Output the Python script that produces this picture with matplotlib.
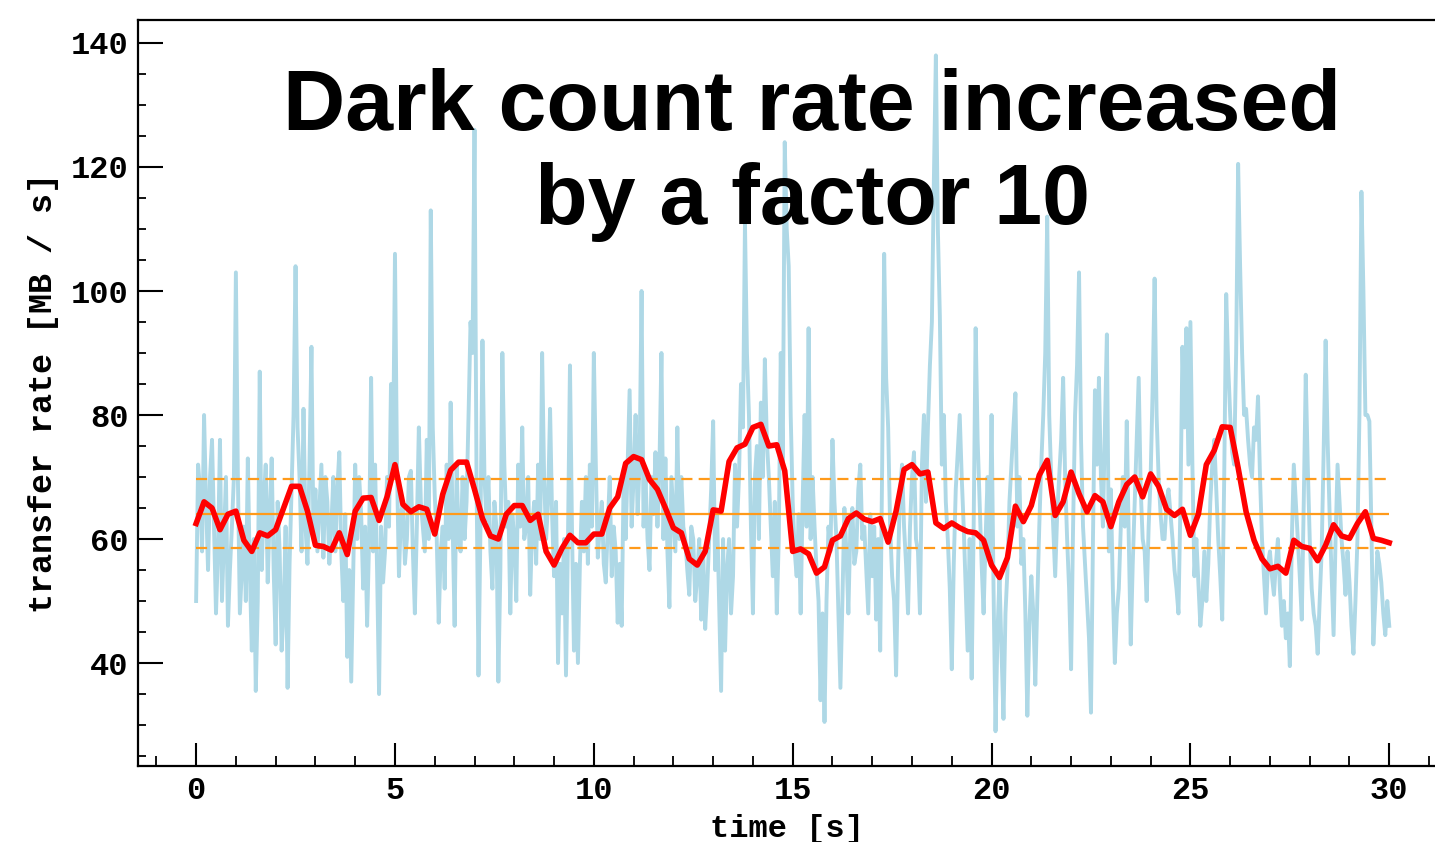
import numpy as np
import matplotlib
matplotlib.use("Agg")
import matplotlib.pyplot as plt
from matplotlib.ticker import MultipleLocator

# raw transfer rate, samples at 0.0, 0.1, ... 30.0 s (MB/s)
raw_rate = [
    50, 68, 80, 55, 76, 48, 76, 60, 46, 62,
    103, 48, 62, 73, 42, 35.5, 87, 66, 53, 73,
    43, 58, 48, 36, 68, 104, 70, 81, 56, 91,
    68, 65, 57, 66, 62, 58, 74, 50, 41, 37,
    72, 70, 52, 46, 86, 72, 35, 53, 70, 85,
    106, 54, 66, 60, 71, 48, 78, 62, 76, 113,
    67, 46.5, 62, 72, 82, 46, 60, 70, 66, 95,
    126, 38, 92, 63, 58, 66, 37, 90, 62, 48,
    60, 72, 78, 62, 51, 66, 72, 90, 60, 81,
    54, 40, 48, 38, 88, 42, 40, 66, 70, 72,
    90, 57, 66, 53, 70, 62, 46.5, 46, 60, 84,
    70, 64, 100, 70, 55, 64, 62, 90, 73, 49,
    64, 78, 70, 60, 51, 60, 54, 47, 45.5, 60,
    79, 64, 35.5, 42, 60, 54, 62, 85, 111, 80,
    48, 75, 82, 89, 70, 54, 48, 90, 124, 104,
    66, 54, 48, 80, 94, 70, 55, 34, 30.5, 62,
    76, 60, 36, 65, 48, 65, 58, 72, 62, 48,
    54, 47, 42, 106, 78, 54, 38, 68, 62, 48,
    70, 60, 48, 80, 78, 95, 138, 96, 80, 60,
    39, 68, 80, 62, 42, 37.5, 94, 66, 48, 70,
    80, 29, 54, 31, 55, 72, 83.5, 70, 60, 31.5,
    54, 36.5, 62, 80, 112, 70, 54, 70, 86, 60,
    39, 80, 103, 62, 50, 32, 84, 86, 62, 93,
    68, 40, 52, 70, 79, 43, 66, 86, 60, 50,
    70, 102, 70, 60, 66, 64, 55, 48, 91, 94,
    95, 54, 53, 50, 50, 66, 76, 60, 47, 99.5,
    80, 72, 120.5, 90, 81, 72, 78, 83, 60, 48,
    58, 51, 60, 46, 44, 39.5, 72, 60, 47, 86.5,
    60, 48, 41.5, 58, 92, 64, 44.5, 72, 60, 51,
    53, 41.5, 60, 116, 80, 79, 43, 58, 53, 44.5,
    46,
]

# raw transfer rate, samples at 0.05, 0.15, ... 29.95 s (MB/s)
raw_rate_mid = [
    72, 58, 66, 70, 62, 58, 50, 70, 55, 70,
    70, 55, 50, 55, 60, 50, 55, 72, 64, 55,
    66, 42, 62, 56, 80, 78, 58, 62, 72, 60,
    58, 72, 70, 56, 70, 68, 58, 64, 55, 55,
    60, 64, 62, 60, 58, 55, 62, 58, 62, 72,
    72, 64, 56, 70, 58, 62, 66, 58, 60, 78,
    60, 58, 52, 60, 62, 72, 58, 60, 80, 90,
    70, 62, 70, 70, 52, 62, 55, 72, 66, 64,
    50, 62, 60, 70, 62, 56, 60, 70, 66, 64,
    66, 56, 60, 60, 62, 56, 56, 58, 56, 62,
    72, 62, 56, 62, 54, 58, 56, 70, 72, 62,
    80, 72, 62, 60, 70, 74, 72, 60, 58, 70,
    58, 60, 62, 55, 62, 50, 60, 58, 52, 68,
    55, 50, 60, 55, 48, 72, 70, 78, 90, 62,
    70, 60, 70, 76, 62, 66, 60, 72, 110, 80,
    58, 64, 66, 62, 60, 62, 50, 48, 50, 58,
    66, 48, 50, 58, 62, 56, 68, 60, 55, 64,
    62, 60, 72, 86, 62, 50, 56, 72, 56, 62,
    74, 58, 72, 66, 88, 118, 110, 72, 66, 52,
    56, 74, 70, 52, 60, 62, 76, 56, 60, 58,
    52, 45, 42, 48, 66, 78, 62, 56, 48, 46,
    48, 50, 72, 90, 80, 62, 64, 76, 70, 52,
    62, 88, 76, 56, 44, 60, 72, 70, 78, 58,
    52, 48, 62, 62, 60, 56, 76, 68, 58, 62,
    84, 80, 64, 60, 68, 60, 52, 66, 78, 72,
    72, 60, 46, 58, 56, 72, 68, 54, 70, 88,
    74, 90, 104, 80, 76, 70, 76, 70, 54, 56,
    54, 56, 52, 50, 48, 60, 66, 54, 66, 72,
    52, 46, 50, 74, 76, 54, 60, 66, 56, 58,
    46, 50, 80, 100, 80, 62, 50, 56, 48, 50,
]

# running average, samples every 0.2 s (MB/s)
avg_rate = [
    62.5, 66, 65, 61.5, 64, 64.5, 59.8, 58, 61, 60.5,
    61.5, 65, 68.5, 68.5, 64.5, 59, 58.8, 58.2, 61, 57.5,
    64.5, 66.6, 66.7, 63, 66.8, 72, 65.6, 64.4, 65.2, 64.8,
    60.8, 67.2, 71.1, 72.4, 72.4, 68, 63.3, 60.5, 60, 64,
    65.4, 65.4, 63, 64, 58, 55.8, 58.5, 60.6, 59.4, 59.4,
    60.8, 60.8, 65, 66.8, 72.2, 73.3, 72.8, 69.6, 68, 65,
    61.8, 61, 56.8, 55.8, 58, 64.7, 64.5, 72.5, 74.7, 75.3,
    78, 78.5, 75, 75.2, 71, 58, 58.4, 57.6, 54.5, 55.5,
    59.8, 60.5, 63.3, 64.2, 63.2, 62.8, 63.3, 59.5, 64.5, 71.2,
    72, 70.5, 70.8, 62.6, 61.7, 62.6, 61.8, 61.2, 61, 59.8,
    55.8, 53.8, 57, 65.3, 62.8, 65.4, 70.3, 72.7, 63.8, 66,
    70.8, 67.3, 64.4, 67, 66, 62, 66, 68.8, 70, 66.8,
    70.5, 68.5, 64.8, 63.8, 64.8, 60.6, 64, 72, 74.3, 78.1,
    78, 71.5, 64.4, 59.8, 56.8, 55.2, 55.6, 54.5, 59.8, 58.8,
    58.5, 56.5, 59, 62.3, 60.5, 60.1, 62.5, 64.4, 60.1, 59.8,
    59.4,
]

mean_rate = 64.1
band = [69.7, 58.5]
t_span = [0, 30]

# merge the two raw sample sets into one time ordered series
t_raw = np.concatenate([np.linspace(0, 30, len(raw_rate)),
                        np.linspace(0.05, 29.95, len(raw_rate_mid))])
v_raw = np.concatenate([raw_rate, raw_rate_mid])
order = np.argsort(t_raw)
t_raw, v_raw = t_raw[order], v_raw[order]

t_avg = np.linspace(0, 30, len(avg_rate))

mono = "Liberation Mono"

fig = plt.figure(figsize=(14.35, 8.42), dpi=100)
ax = fig.add_axes([0.0962, 0.0903, 0.9038, 0.8859])

ax.plot(t_raw, v_raw, color="#aed8e6", lw=2.8, zorder=1)
ax.hlines(mean_rate, t_span[0], t_span[1], color="#ff9a1a", lw=1.6, zorder=2)
ax.hlines(band, t_span[0], t_span[1], color="#ff9a1a", lw=1.6,
          linestyles=(0, (5, 2.8)), zorder=2)
ax.plot(t_avg, avg_rate, color="#ff0000", lw=4, zorder=3)

ax.set_xlim(-1.46, 31.15)
ax.set_ylim(23.4, 143.7)

ax.xaxis.set_major_locator(MultipleLocator(5))
ax.xaxis.set_minor_locator(MultipleLocator(1))
ax.yaxis.set_major_locator(MultipleLocator(20))
ax.yaxis.set_minor_locator(MultipleLocator(5))
ax.tick_params(axis="x", which="major", direction="in", length=16.5, width=1.5,
               pad=7, labelsize=23)
ax.tick_params(axis="x", which="minor", direction="in", length=7, width=1.3)
ax.tick_params(axis="y", which="major", direction="in", length=18, width=1.5,
               pad=7, labelsize=23)
ax.tick_params(axis="y", which="minor", direction="in", length=6, width=1.3)
for lab in ax.get_xticklabels() + ax.get_yticklabels():
    lab.set_fontfamily(mono)
    lab.set_fontweight("bold")

ax.spines["right"].set_visible(False)
for side in ["left", "top", "bottom"]:
    ax.spines[side].set_linewidth(1.6)

ax.set_xlabel("time [s]", fontfamily=mono, fontweight="bold", fontsize=23,
              labelpad=6)
ax.set_ylabel("transfer rate [MB / s]", fontfamily=mono, fontweight="bold",
              fontsize=24, labelpad=8)

fig.text(0.566, 0.8455, "Dark count rate increased", ha="center", va="baseline",
         fontsize=62, fontweight="bold", fontfamily="Liberation Sans")
fig.text(0.566, 0.734, "by a factor 10", ha="center", va="baseline",
         fontsize=62, fontweight="bold", fontfamily="Liberation Sans")

fig.savefig("out.png", dpi=100)
